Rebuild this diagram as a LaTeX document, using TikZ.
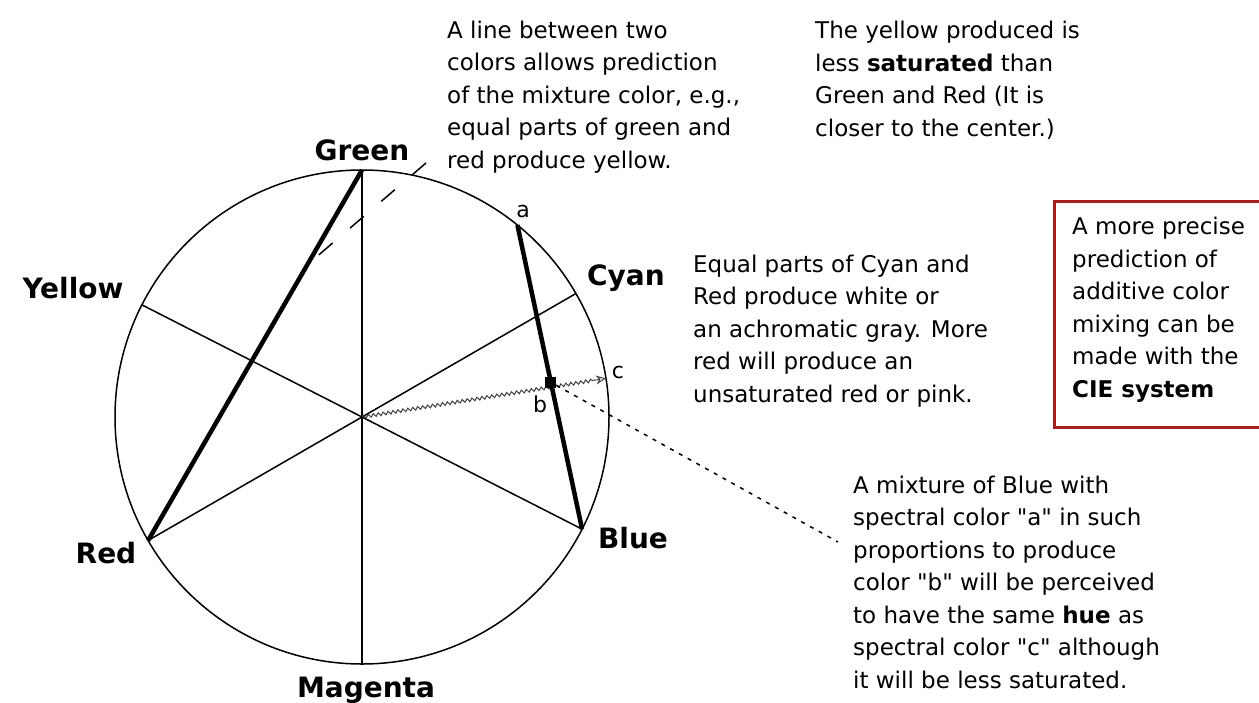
\documentclass[tikz,border=0pt]{standalone}
\usepackage{fontspec}
\setmainfont{DejaVu Sans}
\usetikzlibrary{calc,decorations.pathmorphing,arrows.meta}
\definecolor{boxred}{RGB}{165,32,32}

\begin{document}
\begin{tikzpicture}[x=1pt,y=-1pt,
  colorlabel/.style={font=\fontsize{28}{32}\selectfont\bfseries, inner sep=0pt, anchor=base},
  note/.style={font=\fontsize{23}{32.5}\selectfont, align=left, inner sep=0pt, anchor=base west},
  letter/.style={font=\fontsize{22}{26}\selectfont, inner sep=0pt},
  spoke/.style={line width=1.5pt},
  chord/.style={line width=4.5pt},
  leader/.style={line width=1.5pt, dash pattern=on 18pt off 23pt},
  dotleader/.style={line width=1.5pt, dash pattern=on 4pt off 6pt},
  wavy/.style={line width=1pt, black!75, decorate, decoration={snake, amplitude=1.6pt, segment length=5pt, post length=12pt}, -{Stealth[open, length=10pt, width=9pt]}},
  boxframe/.style={line width=3pt, boxred}
]
\useasboundingbox (0,0) rectangle (1259,702);

% the hue circle
\node[circle, draw, line width=1.5pt, minimum size=494pt, inner sep=0pt, outer sep=0pt] (wheel) at (362,417) {};
\foreach \ang/\nm in {90/green, 30.5/cyan, -27/blue, -90/magenta, 210/red, 153/yellow, 51/a, 9.8/c}
  \coordinate (\nm) at (wheel.\ang);

\draw[spoke] (green) -- (magenta);
\draw[spoke] (cyan) -- (red);
\draw[spoke] (yellow) -- (blue);

% mixtures
\draw[chord] (green) -- (red);
\draw[chord] (a) -- (blue);
\coordinate (b) at ($(a)!0.517!(blue)$);
\draw[wavy] (wheel.center) -- (c);
\node[fill, minimum size=11pt, inner sep=0pt] (bsq) at (b) {};

% labels
\node[colorlabel] (lgreen) at (362,160) {Green};
\node[colorlabel] (lyellow) at (73,298) {Yellow};
\node[colorlabel] (lcyan) at (626,285) {Cyan};
\node[colorlabel] (lblue) at (633,548) {Blue};
\node[colorlabel] (lred) at (106,563) {Red};
\node[colorlabel] (lmagenta) at (366,697) {Magenta};
\node[letter] (la) at (523,211) {a};
\node[letter] (lb) at (540,404) {b};
\node[letter] (lc) at (618,372) {c};

% notes (placed at the baseline of their last line)
\node[note] (mixline) at (447,168) {A line between two\\colors allows prediction\\of the mixture color, e.g.,\\equal parts of green and\\red produce yellow.};
\node[note] (lesssat) at (815,136) {The yellow produced is\\less \textbf{saturated} than\\Green and Red (It is\\closer to the center.)};
\node[note] (white) at (693,402) {Equal parts of Cyan and\\Red produce white or\\an achromatic gray. More\\red will produce an\\unsaturated red or pink.};
\node[note] (cie) at (1072,397) {A more precise\\prediction of\\additive color\\mixing can be\\made with the\\\textbf{CIE system}};
\node[note] (samehue) at (853,688) {A mixture of Blue with\\spectral color \textquotedbl a\textquotedbl{} in such\\proportions to produce\\color \textquotedbl b\textquotedbl{} will be perceived\\to have the same \textbf{hue} as\\spectral color \textquotedbl c\textquotedbl{} although\\it will be less saturated.};

% pointers
\coordinate (tip1) at (426,163);
\coordinate (foot1) at (307,265);
\draw[leader] (tip1) -- (foot1);
\coordinate (tip2) at (838,542);
\draw[dotleader] (bsq) -- (tip2);

\draw[boxframe] (1265,201) -| (1054,427) -- (1265,427);
\end{tikzpicture}
\end{document}
